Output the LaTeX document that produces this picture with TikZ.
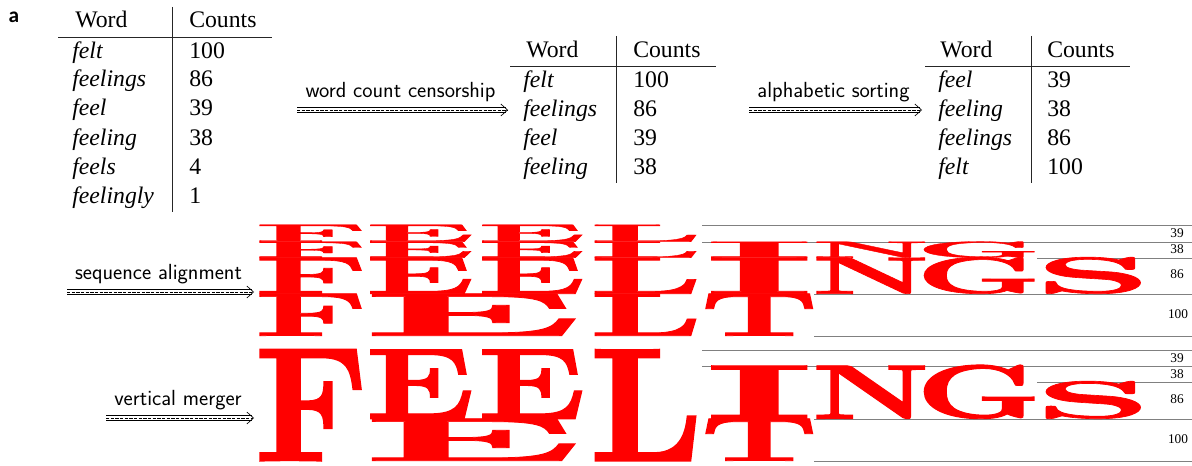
\documentclass[tikz,border=0pt]{standalone}
\usepackage{fontspec}
\usepackage{graphicx}
\newfontfamily\tablefont{Liberation Serif}
\newfontfamily\panelfont{Carlito}
\newfontfamily\letterfont{Latin Modern Roman}[BoldFeatures={FakeBold=1.2}]
\usetikzlibrary{arrows.meta,positioning}
\newdimen\pxu
\pxu=0.75pt
\newcommand{\stretched}[3]{\hspace*{-0.05\dimexpr#1\pxu\relax}\resizebox{1.11\dimexpr#1\pxu\relax}{#2\pxu}{\letterfont\bfseries #3}\hspace*{-0.06\dimexpr#1\pxu\relax}}
\tikzset{
  cell/.style={anchor=base west, inner sep=0pt, font=\tablefont\fontsize{17.8}{20}\selectfont},
  word/.style={cell, font=\tablefont\itshape\fontsize{17.8}{20}\selectfont},
  rule/.style={line width=0.6pt, black!85},
  merge/.style={-{Straight Barb[length=5pt,width=9pt]}, line width=0.5pt, dash pattern=on 2.5pt off 1pt,
                preaction={draw, -, solid, double, double distance=3.6pt, shorten >=1.5pt}},
  step label/.style={above=6pt, xshift=-1.5pt, inner sep=0pt, font=\sffamily\fontsize{16.4}{19}\selectfont},
  letter/.style={anchor=south west, inner sep=0pt, text=red},
  band/.style={line width=0.55pt, black!50},
  tally/.style={inner sep=0pt, font=\tablefont\fontsize{10}{12}\selectfont},
}
\begin{document}
\begin{tikzpicture}[x=0.75pt, y=-0.75pt]
\useasboundingbox (0,0) rectangle (1192,466);
\node[inner sep=0pt, font=\panelfont\bfseries\fontsize{16}{19}\selectfont] (panel) at (14,17) {a};
% full table
\node[cell] (w1) at (75,28) {Word};
\node[cell] (c1) at (189,28) {Counts};
\node[word] (felt1) at (72,59) {felt};
\node[word] (feelings1) at (72,87) {feelings};
\node[word] (feel1) at (72,116) {feel};
\node[word] (feeling1) at (72,146) {feeling};
\node[word] (feels1) at (72,175) {feels};
\node[word] (feelingly1) at (72,204) {feelingly};
\node[cell] (n11) at (189,59) {100};
\node[cell] (n12) at (189,87) {86};
\node[cell] (n13) at (189,116) {39};
\node[cell] (n14) at (189,146) {38};
\node[cell] (n15) at (189,175) {4};
\node[cell] (n16) at (189,204) {1};
\draw[rule] (172,7) -- (172,212);
\draw[rule] (58,37) -- (272,37);
% censored table
\node[cell] (w2) at (526,58) {Word};
\node[cell] (c2) at (633,58) {Counts};
\node[word] (felt2) at (523,88) {felt};
\node[word] (feelings2) at (523,117) {feelings};
\node[word] (feel2) at (523,146) {feel};
\node[word] (feeling2) at (523,175) {feeling};
\node[cell] (n21) at (633,88) {100};
\node[cell] (n22) at (633,117) {86};
\node[cell] (n23) at (633,146) {39};
\node[cell] (n24) at (633,175) {38};
\draw[rule] (616,36) -- (616,183);
\draw[rule] (510,66) -- (716,66);
% sorted table
\node[cell] (w3) at (940,58) {Word};
\node[cell] (c3) at (1047,58) {Counts};
\node[word] (feel3) at (938,88) {feel};
\node[word] (feeling3) at (938,117) {feeling};
\node[word] (feelings3) at (938,146) {feelings};
\node[word] (felt3) at (938,175) {felt};
\node[cell] (n31) at (1047,88) {39};
\node[cell] (n32) at (1047,117) {38};
\node[cell] (n33) at (1047,146) {86};
\node[cell] (n34) at (1047,175) {100};
\draw[rule] (1031,36) -- (1031,183);
\draw[rule] (925,66) -- (1130,66);
% arrows
\coordinate (s1) at (297,110);
\coordinate (e1) at (508,110);
\coordinate (s2) at (749,110);
\coordinate (e2) at (922,110);
\coordinate (s3) at (67,292);
\coordinate (e3) at (254,292);
\coordinate (s4) at (106,418);
\coordinate (e4) at (254,418);
\draw[merge] (s1) -- node[step label] {word count censorship} (e1);
\draw[merge] (s2) -- node[step label] {alphabetic sorting} (e2);
\draw[merge] (s3) -- node[step label] {sequence alignment} (e3);
\draw[merge] (s4) -- node[step label] {vertical merger} (e4);
% aligned stack
\draw[band] (702,225) -- (1192,225);
\draw[band] (702,242) -- (1192,242);
\draw[band] (1037,258) -- (1192,258);
\draw[band] (814,294) -- (1192,294);
\draw[band] (814,336) -- (1192,336);
\node[tally] (t1) at (1177,233) {39};
\node[tally] (t2) at (1177,249) {38};
\node[tally] (t3) at (1177,274) {86};
\node[tally] (t4) at (1178,314) {100};
\node[letter] (a1) at (259,242) {\stretched{103}{17}{F}};
\node[letter] (a2) at (370,242) {\stretched{99}{17}{E}};
\node[letter] (a3) at (482,242) {\stretched{98}{17}{E}};
\node[letter] (a4) at (594,242) {\stretched{103}{17}{L}};
\node[letter] (b1) at (259,258) {\stretched{103}{16}{F}};
\node[letter] (b2) at (370,258) {\stretched{99}{16}{E}};
\node[letter] (b3) at (482,258) {\stretched{98}{16}{E}};
\node[letter] (b4) at (594,258) {\stretched{103}{16}{L}};
\node[letter] (b5) at (709,258) {\stretched{99}{16}{I}};
\node[letter] (b6) at (817,258) {\stretched{106}{16}{N}};
\node[letter] (b7) at (921,258) {\stretched{114}{16}{G}};
\node[letter] (c1x) at (259,294) {\stretched{103}{36}{F}};
\node[letter] (c2x) at (370,294) {\stretched{99}{36}{E}};
\node[letter] (c3x) at (482,294) {\stretched{98}{36}{E}};
\node[letter] (c4x) at (594,294) {\stretched{103}{36}{L}};
\node[letter] (c5x) at (709,294) {\stretched{99}{36}{I}};
\node[letter] (c6x) at (817,294) {\stretched{106}{36}{N}};
\node[letter] (c7x) at (921,294) {\stretched{114}{36}{G}};
\node[letter] (c8x) at (1040,294) {\stretched{105}{36}{S}};
\node[letter] (d1) at (259,336) {\stretched{103}{42}{F}};
\node[letter] (d2) at (372,336) {\stretched{199}{42}{E}};
\node[letter] (d3) at (594,336) {\stretched{103}{42}{L}};
\node[letter] (d4) at (705,336) {\stretched{107}{42}{T}};
% merged stack
\draw[band] (702,350) -- (1192,350);
\draw[band] (702,366) -- (1192,366);
\draw[band] (1037,382) -- (1192,382);
\draw[band] (814,419) -- (1192,419);
\draw[band] (814,461) -- (1192,461);
\node[tally] (m1) at (1177,358) {39};
\node[tally] (m2) at (1177,374) {38};
\node[tally] (m3) at (1177,399) {86};
\node[tally] (m4) at (1178,439) {100};
\node[letter] (f) at (259,461) {\stretched{103}{111}{F}};
\node[letter] (e1x) at (370,419) {\stretched{99}{69}{E}};
\node[letter] (e2x) at (482,419) {\stretched{98}{69}{E}};
\node[letter] (e3x) at (372,461) {\stretched{199}{42}{E}};
\node[letter] (l) at (594,461) {\stretched{103}{111}{L}};
\node[letter] (i) at (709,419) {\stretched{99}{53}{I}};
\node[letter] (n) at (817,419) {\stretched{106}{53}{N}};
\node[letter] (g) at (921,419) {\stretched{114}{53}{G}};
\node[letter] (s) at (1040,419) {\stretched{105}{37}{S}};
\node[letter] (t) at (705,461) {\stretched{107}{42}{T}};
\end{tikzpicture}
\end{document}
